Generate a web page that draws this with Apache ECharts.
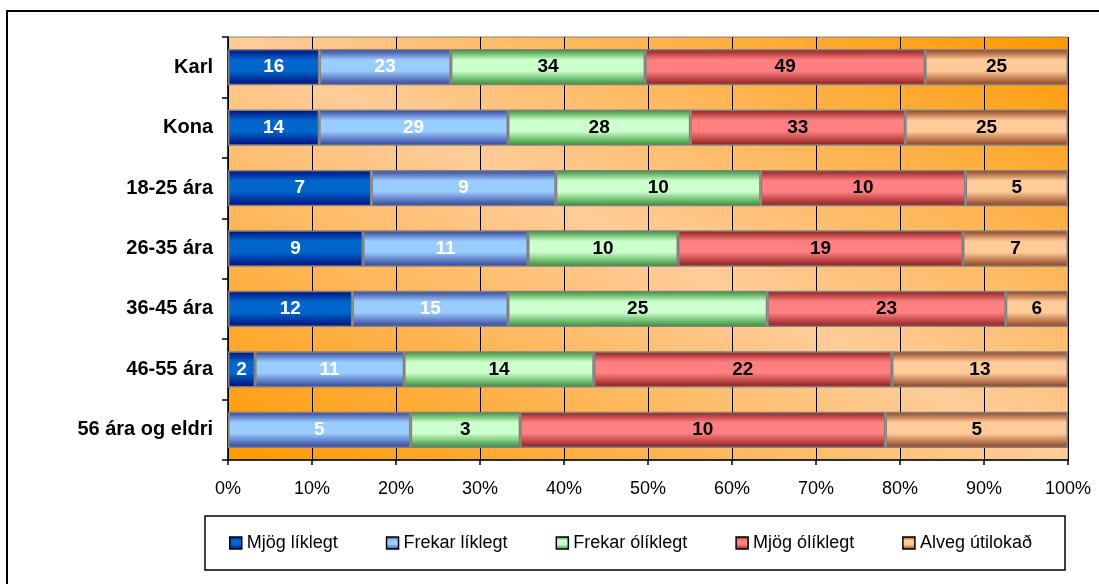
<!DOCTYPE html>
<html>
<head>
<meta charset="utf-8">
<script src="https://cdn.jsdelivr.net/npm/echarts@6/dist/echarts.min.js"></script>
<style>
  html, body { margin: 0; padding: 0; background: #fff; }
  #main { width: 1099px; height: 584px; }
</style>
</head>
<body>
<div id="main"></div>
<script>
// flokkar (efst til neðst)
const categories = ['Karl', 'Kona', '18-25 ára', '26-35 ára', '36-45 ára', '46-55 ára', '56 ára og eldri'];

// fjöldi svara í hverjum flokki
const mjogLiklegt = [16, 14, 7, 9, 12, 2, 0];
const frekarLiklegt = [23, 29, 9, 11, 15, 11, 5];
const frekarOliklegt = [34, 28, 10, 10, 25, 14, 3];
const mjogOliklegt = [49, 33, 10, 19, 23, 22, 10];
const alvegUtilokad = [25, 25, 5, 7, 6, 13, 5];

const seriesNames = ['Mjög líklegt', 'Frekar líklegt', 'Frekar ólíklegt', 'Mjög ólíklegt', 'Alveg útilokað'];
const seriesValues = [mjogLiklegt, frekarLiklegt, frekarOliklegt, mjogOliklegt, alvegUtilokad];

const xTicks = [0, 10, 20, 30, 40, 50, 60, 70, 80, 90, 100];

// litir: [kantur, miðja]
const colors = [
  ['#000a7a', '#0066cc'],
  ['#2f3d94', '#99ccff'],
  ['#2e8b2e', '#ccffcc'],
  ['#8b1a1a', '#ff8080'],
  ['#8b3a1a', '#ffcc99']
];
const labelColors = ['#fff', '#fff', '#000', '#000', '#000'];

const FONT = 'Arial, Liberation Sans, sans-serif';

// samtals fyrir hvern flokk
const totals = categories.map((c, i) => seriesValues.reduce((s, arr) => s + arr[i], 0));

function barFill(c) {
  return {
    type: 'linear', x: 0, y: 0, x2: 0, y2: 1,
    colorStops: [
      { offset: 0, color: c[0] },
      { offset: 0.3, color: c[1] },
      { offset: 0.6, color: c[1] },
      { offset: 1, color: c[0] }
    ]
  };
}

const chart = echarts.init(document.getElementById('main'));

const series = seriesNames.map((name, k) => ({
  name,
  type: 'bar',
  stack: 'total',
  barWidth: '60%',
  data: seriesValues[k].map((v, i) => v === 0 ? null : v / totals[i] * 100),
  itemStyle: {
    color: barFill(colors[k]),
    borderColor: '#808080',
    borderWidth: 1.5
  },
  label: {
    show: true,
    position: 'inside',
    color: labelColors[k],
    fontFamily: FONT,
    fontWeight: 'bold',
    fontSize: 19,
    formatter: p => {
      const v = seriesValues[k][p.dataIndex];
      return v ? String(v) : '';
    }
  }
}));

const option = {
  animation: false,
  backgroundColor: '#fff',
  grid: {
    left: 228, top: 37, width: 840, height: 423,
    show: true,
    borderColor: '#808080',
    borderWidth: 1,
    backgroundColor: {
      type: 'linear', x: 0.298, y: 1.298, x2: 0.702, y2: -0.298,
      colorStops: [
        { offset: 0, color: '#ff9900' },
        { offset: 0.5, color: '#ffcc99' },
        { offset: 1, color: '#ff9900' }
      ]
    }
  },
  legend: {
    left: 229,
    top: 534,
    padding: 0,
    icon: 'rect',
    itemWidth: 12,
    itemHeight: 12,
    itemGap: 48,
    itemStyle: { borderColor: '#000', borderWidth: 1.5 },
    textStyle: {
      fontFamily: FONT,
      fontSize: 18,
      color: '#000'
    },
    data: seriesNames
  },
  xAxis: {
    type: 'value',
    min: xTicks[0],
    max: xTicks[xTicks.length - 1],
    interval: 10,
    axisLine: { show: true, lineStyle: { color: '#000', width: 1.5 } },
    axisTick: { show: true, length: 5, lineStyle: { color: '#000', width: 1.5 } },
    axisLabel: {
      margin: 20,
      color: '#000',
      fontFamily: FONT,
      fontSize: 18,
      formatter: '{value}%'
    },
    splitLine: { show: true, lineStyle: { color: '#000', width: 1 } }
  },
  yAxis: {
    type: 'category',
    inverse: true,
    data: categories,
    axisLine: { show: true, lineStyle: { color: '#000', width: 1.5 } },
    axisTick: { show: true, length: 6, lineStyle: { color: '#000', width: 1.5 } },
    axisLabel: {
      margin: 15,
      color: '#000',
      fontFamily: FONT,
      fontWeight: 'bold',
      fontSize: 20
    }
  },
  graphic: [
    {
      type: 'rect',
      shape: { x: 7, y: 11, width: 1200, height: 700 },
      style: { fill: 'none', stroke: '#000', lineWidth: 2 },
      silent: true
    },
    {
      type: 'rect',
      shape: { x: 205, y: 516, width: 860, height: 54 },
      style: { fill: 'none', stroke: '#000', lineWidth: 1.5 },
      silent: true
    }
  ],
  series
};

chart.setOption(option);
</script>
</body>
</html>
